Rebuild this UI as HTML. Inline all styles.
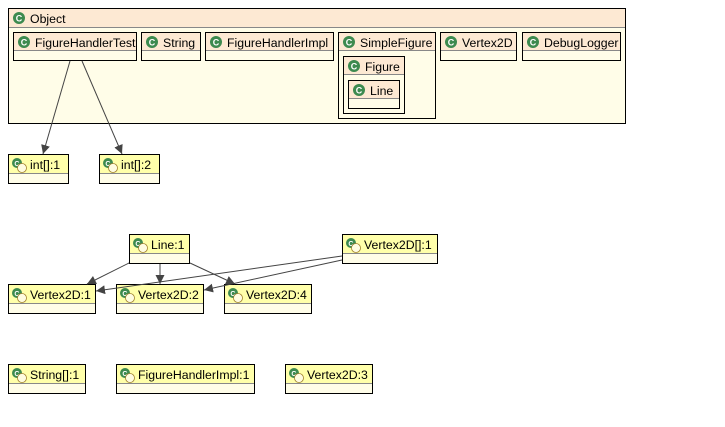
<!DOCTYPE html>
<html><head><meta charset="utf-8"><style>
html,body{margin:0;padding:0;background:#fff;}
text{font-family:"Liberation Sans",sans-serif;font-size:12.3px;fill:#000;}
</style></head><body>
<svg width="725" height="422" viewBox="0 0 725 422" xmlns="http://www.w3.org/2000/svg">
<defs>
<g id="ci"><circle cx="0" cy="0" r="6" fill="#3d8a4f"/><text x="-3.3" y="3.4" style="font-size:9px;font-weight:bold;fill:#fff">C</text></g>
<g id="oi"><circle cx="-1" cy="-1" r="5" fill="#3d8a4f"/><text x="-3.7" y="2" style="font-size:7px;font-weight:bold;fill:#fff">C</text><circle cx="4" cy="4" r="4.5" fill="#fffce0" stroke="#a08030" stroke-width="0.8"/></g>
<marker id="ar" viewBox="0 0 10 10" refX="10" refY="5" markerWidth="9" markerHeight="9" orient="auto" markerUnits="userSpaceOnUse"><path d="M0,0 L10,5 L0,10 z" fill="#444"/></marker>
</defs>
<rect x="8.5" y="8.5" width="617" height="115" fill="#fffde8" stroke="#000"/>
<rect x="9" y="9" width="616" height="18" fill="#fde9d3"/>
<line x1="9" y1="27.5" x2="625" y2="27.5" stroke="#888"/>
<use href="#ci" x="19" y="18"/><text x="30" y="23">Object</text>
<g stroke="#000" fill="#fffde8">
<rect x="13.5" y="32.5" width="123" height="28"/>
<rect x="141.5" y="32.5" width="59" height="28"/>
<rect x="205.5" y="32.5" width="128" height="28"/>
<rect x="338.5" y="32.5" width="97" height="86"/>
<rect x="440.5" y="32.5" width="76" height="28"/>
<rect x="522.5" y="32.5" width="98" height="28"/>
<rect x="343.5" y="56.5" width="61" height="57"/>
<rect x="348.5" y="80.5" width="51" height="28"/>
</g>
<g fill="#fde9d3">
<rect x="14" y="33" width="122" height="17"/><rect x="142" y="33" width="58" height="17"/><rect x="206" y="33" width="127" height="17"/>
<rect x="339" y="33" width="96" height="17"/><rect x="441" y="33" width="75" height="17"/><rect x="523" y="33" width="97" height="17"/>
<rect x="344" y="57" width="60" height="17"/><rect x="349" y="81" width="50" height="17"/>
</g>
<g stroke="#888">
<line x1="14" y1="50.5" x2="136" y2="50.5"/><line x1="142" y1="50.5" x2="200" y2="50.5"/><line x1="206" y1="50.5" x2="333" y2="50.5"/>
<line x1="339" y1="50.5" x2="435" y2="50.5"/><line x1="441" y1="50.5" x2="516" y2="50.5"/><line x1="523" y1="50.5" x2="620" y2="50.5"/>
<line x1="344" y1="74.5" x2="404" y2="74.5"/><line x1="349" y1="98.5" x2="399" y2="98.5"/>
</g>
<use href="#ci" x="24" y="42"/><text x="35" y="47">FigureHandlerTest</text>
<use href="#ci" x="152" y="42"/><text x="163" y="47">String</text>
<use href="#ci" x="216" y="42"/><text x="227" y="47">FigureHandlerImpl</text>
<use href="#ci" x="349" y="42"/><text x="360" y="47">SimpleFigure</text>
<use href="#ci" x="451" y="42"/><text x="462" y="47">Vertex2D</text>
<use href="#ci" x="533" y="42"/><text x="544" y="47">DebugLogger</text>
<use href="#ci" x="354" y="66"/><text x="365" y="71">Figure</text>
<use href="#ci" x="359" y="90"/><text x="370" y="95">Line</text>
<g stroke="#000" fill="#fffde8">
<rect x="8.5" y="154.5" width="60" height="29"/>
<rect x="99.5" y="154.5" width="60" height="29"/>
<rect x="129.5" y="234.5" width="60" height="29"/>
<rect x="342.5" y="234.5" width="95" height="29"/>
<rect x="8.5" y="284.5" width="87" height="29"/>
<rect x="116.5" y="284.5" width="87" height="29"/>
<rect x="224.5" y="284.5" width="87" height="29"/>
<rect x="8.5" y="364.5" width="77" height="29"/>
<rect x="116.5" y="364.5" width="138" height="29"/>
<rect x="285.5" y="364.5" width="87" height="29"/>
</g>
<g fill="#ffffaa">
<rect x="9" y="155" width="59" height="18"/><rect x="100" y="155" width="59" height="18"/>
<rect x="130" y="235" width="59" height="18"/><rect x="343" y="235" width="94" height="18"/>
<rect x="9" y="285" width="86" height="18"/><rect x="117" y="285" width="86" height="18"/><rect x="225" y="285" width="86" height="18"/>
<rect x="9" y="365" width="76" height="18"/><rect x="117" y="365" width="137" height="18"/><rect x="286" y="365" width="86" height="18"/>
</g>
<g stroke="#888">
<line x1="9" y1="173.5" x2="68" y2="173.5"/><line x1="100" y1="173.5" x2="159" y2="173.5"/>
<line x1="130" y1="253.5" x2="189" y2="253.5"/><line x1="343" y1="253.5" x2="437" y2="253.5"/>
<line x1="9" y1="303.5" x2="95" y2="303.5"/><line x1="117" y1="303.5" x2="203" y2="303.5"/><line x1="225" y1="303.5" x2="311" y2="303.5"/>
<line x1="9" y1="383.5" x2="85" y2="383.5"/><line x1="117" y1="383.5" x2="254" y2="383.5"/><line x1="286" y1="383.5" x2="372" y2="383.5"/>
</g>
<use href="#oi" x="18" y="164"/><text x="30" y="169">int[]:1</text>
<use href="#oi" x="109" y="164"/><text x="121" y="169">int[]:2</text>
<use href="#oi" x="139" y="244"/><text x="151" y="249">Line:1</text>
<use href="#oi" x="352" y="244"/><text x="364" y="249">Vertex2D[]:1</text>
<use href="#oi" x="18" y="294"/><text x="30" y="299">Vertex2D:1</text>
<use href="#oi" x="126" y="294"/><text x="138" y="299">Vertex2D:2</text>
<use href="#oi" x="234" y="294"/><text x="246" y="299">Vertex2D:4</text>
<use href="#oi" x="18" y="374"/><text x="30" y="379">String[]:1</text>
<use href="#oi" x="126" y="374"/><text x="138" y="379">FigureHandlerImpl:1</text>
<use href="#oi" x="295" y="374"/><text x="307" y="379">Vertex2D:3</text>
<g stroke="#444" stroke-width="1" marker-end="url(#ar)">
<line x1="70" y1="61" x2="43" y2="154"/>
<line x1="82" y1="61" x2="122" y2="154"/>
<line x1="129" y1="263" x2="87" y2="284"/>
<line x1="160" y1="264" x2="160" y2="284"/>
<line x1="190" y1="263" x2="235" y2="284"/>
<line x1="342" y1="256" x2="96" y2="291"/>
<line x1="342" y1="260" x2="204" y2="290"/>
</g>
</svg>
</body></html>
